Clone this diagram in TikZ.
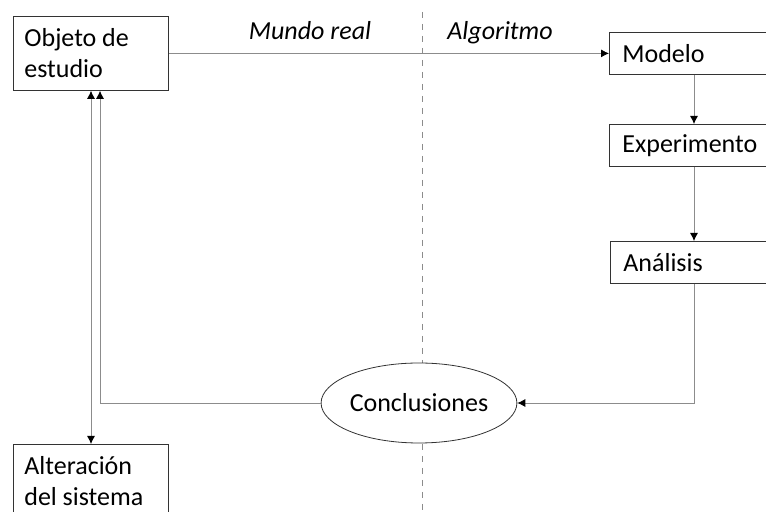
\documentclass[tikz,border=0pt]{standalone}
\usepackage{fontspec}
\setmainfont{Carlito}
\usetikzlibrary{arrows.meta, positioning, shapes.geometric}

\begin{document}
\begin{tikzpicture}[x=0.5pt, y=-0.5pt,
		font=\fontsize{13}{15.5}\selectfont,
		caja/.style={draw=black!80, rectangle, align=left, anchor=north west, inner ysep=0pt,
			execute at begin node={\spaceskip=0.22em\relax}},
		flecha/.style={draw=black!45, -{Latex[length=4pt, width=4pt, color=black]}},
		flechas/.style={draw=black!45, {Latex[length=4pt, width=4pt, color=black]}-{Latex[length=4pt, width=4pt, color=black]}}]
		\useasboundingbox (0,0) rectangle (766,512);
		% separacion mundo real / algoritmo
		\coordinate (sepA) at (422,12);
		\coordinate (sepB) at (422,512);
		\draw[dashed, black!45] (sepA) -- (sepB);
		\node[anchor=base] (mundo) at (310,40) {\itshape Mundo real};
		\node[anchor=base] (algoritmo) at (500,40) {\itshape Algoritmo};
		% cajas
		\node[caja, text width=66.5pt, inner xsep=5.5pt, minimum height=37pt] (objeto) at (13,16) {Objeto de\\estudio};
		\node[caja, text width=66.5pt, inner xsep=5.5pt, minimum height=37pt] (alteracion) at (13,444) {Alteración\\del sistema};
		\node[caja, text width=80pt, inner xsep=6.5pt, minimum height=21pt] (modelo) at (609,32) {Modelo};
		\node[caja, text width=80pt, inner xsep=6.5pt, minimum height=21pt] (experimento) at (609,124) {Experimento};
		\node[caja, text width=80pt, inner xsep=6.5pt, minimum height=21pt] (analisis) at (610,241) {Análisis};
		\node[ellipse, draw=black!80, fill=white, minimum width=96pt, minimum height=40pt, inner sep=0pt] (conclusiones) at (419,403) {Conclusiones};
		% ejes de las flechas
		\coordinate (eje) at (694,0);
		\coordinate (izq) at (100,0);
		\coordinate (doble) at (91,0);
		\draw[flecha] (objeto.east) -- (modelo.west);
		\draw[flecha] (modelo.south -| eje) -- (experimento.north -| eje);
		\draw[flecha] (experimento.south -| eje) -- (analisis.north -| eje);
		\draw[flecha] (analisis.south -| eje) |- (conclusiones.east);
		\draw[flecha] (conclusiones.west) -| (objeto.south -| izq);
		\draw[flechas] (objeto.south -| doble) -- (alteracion.north -| doble);
	\end{tikzpicture}
\end{document}
